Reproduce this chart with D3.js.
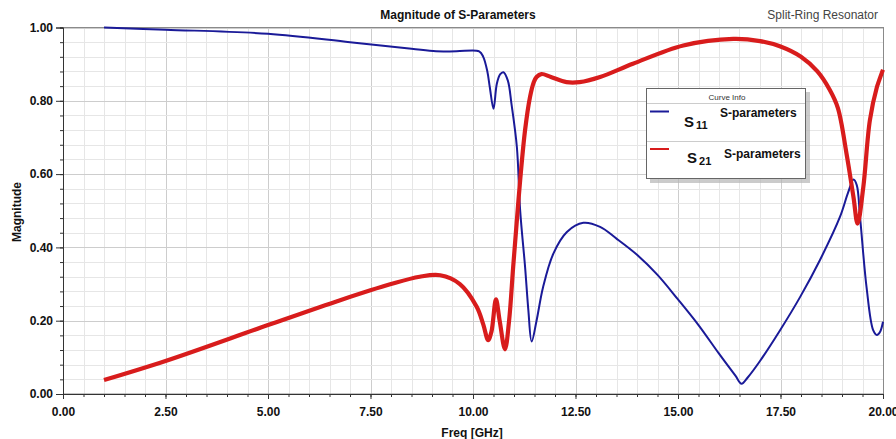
<!DOCTYPE html>
<html><head><meta charset="utf-8">
<script src="https://cdn.jsdelivr.net/npm/d3@7"></script>
<style>
html,body{margin:0;padding:0;background:#fff;}
svg{display:block;font-family:"Liberation Sans",Arial,sans-serif;}
</style></head>
<body><svg id="chart" width="896" height="439"></svg>
<script>
// ---- data ----
const freqS11 = [1.0, 2.5, 5.0, 7.0, 8.5, 9.1, 9.6, 10.15, 10.25, 10.35, 10.41, 10.5, 10.58, 10.66, 10.74, 10.85, 10.94, 11.07, 11.15, 11.27, 11.35, 11.43, 11.55, 11.71, 11.96, 12.29, 12.69, 13.1, 13.5, 14.0, 14.5, 15.0, 15.5, 16.0, 16.4, 16.55, 16.7, 17.0, 17.49, 17.98, 18.46, 18.95, 19.15, 19.28, 19.36, 19.44, 19.6, 19.76, 19.85, 19.93, 20.0];
const s11 = [1.0, 0.994, 0.983, 0.96, 0.942, 0.935, 0.935, 0.935, 0.92, 0.88, 0.837, 0.778, 0.846, 0.872, 0.878, 0.855, 0.79, 0.674, 0.501, 0.347, 0.229, 0.143, 0.2, 0.292, 0.383, 0.442, 0.467, 0.456, 0.424, 0.38, 0.325, 0.258, 0.188, 0.11, 0.05, 0.028, 0.045, 0.09, 0.174, 0.265, 0.365, 0.483, 0.55, 0.585, 0.57, 0.483, 0.29, 0.174, 0.161, 0.17, 0.197];
const freqS21 = [1.0, 2.5, 5.0, 6.76, 8.0, 8.7, 9.2, 9.68, 10.09, 10.25, 10.37, 10.45, 10.56, 10.65, 10.78, 10.88, 10.98, 11.07, 11.15, 11.27, 11.39, 11.48, 11.55, 11.67, 11.9, 12.28, 12.6, 13.1, 13.9, 15.13, 16.35, 17.0, 17.5, 18.0, 18.4, 18.7, 18.9, 19.11, 19.28, 19.38, 19.52, 19.68, 19.85, 20.0];
const s21 = [0.038, 0.09, 0.188, 0.256, 0.3, 0.32, 0.324, 0.30, 0.238, 0.19, 0.147, 0.17, 0.258, 0.2, 0.122, 0.2, 0.347, 0.474, 0.583, 0.72, 0.81, 0.85, 0.865, 0.873, 0.865, 0.851, 0.851, 0.865, 0.901, 0.951, 0.969, 0.963, 0.948, 0.92, 0.88, 0.83, 0.78, 0.656, 0.537, 0.465, 0.565, 0.747, 0.837, 0.885];
const xTicks = [0, 2.5, 5, 7.5, 10, 12.5, 15, 17.5, 20];
const yTicks = [0, 0.2, 0.4, 0.6, 0.8, 1.0];
const seriesNames = ["11", "21"];

// ---- layout ----
const svg = d3.select("#chart");
const L = 63, R = 883, T = 27.5, B = 394;
const x = d3.scaleLinear().domain([0, 20]).range([L, R]);
const y = d3.scaleLinear().domain([0, 1]).range([B, T]);

svg.append("rect").attr("width", 896).attr("height", 439).attr("fill", "#fff");

// grid
const g = svg.append("g");
const xMinor = d3.range(0, 20.001, 0.5);
const yMinor = d3.range(0, 1.0001, 0.04);
g.selectAll(".vx").data(xMinor).enter().append("line")
  .attr("x1", d => Math.round(x(d)) + 0.5).attr("x2", d => Math.round(x(d)) + 0.5)
  .attr("y1", T).attr("y2", B)
  .attr("stroke", d => Math.abs(d / 2.5 - Math.round(d / 2.5)) < 1e-6 ? "#cdcdcd" : "#e6e6e6")
  .attr("stroke-width", 1);
g.selectAll(".hy").data(yMinor).enter().append("line")
  .attr("y1", d => Math.round(y(d)) + 0.5).attr("y2", d => Math.round(y(d)) + 0.5)
  .attr("x1", L).attr("x2", R)
  .attr("stroke", d => Math.abs(d / 0.2 - Math.round(d / 0.2)) < 1e-6 ? "#cdcdcd" : "#e6e6e6")
  .attr("stroke-width", 1);

// frame
svg.append("rect").attr("x", L + 0.5).attr("y", T).attr("width", R - L).attr("height", B - T)
  .attr("fill", "none").attr("stroke", "#8a8a8a").attr("stroke-width", 1);

// axes
const xAxisMinor = d3.axisBottom(x).tickValues(xMinor).tickSize(3).tickFormat("");
const xAxis = d3.axisBottom(x).tickValues(xTicks).tickSize(5).tickPadding(8).tickFormat(d3.format(".2f"));
const yAxisMinor = d3.axisLeft(y).tickValues(yMinor).tickSize(3).tickFormat("");
const yAxis = d3.axisLeft(y).tickValues(yTicks).tickSize(7).tickPadding(3).tickFormat(d3.format(".2f"));

function styleAxis(sel) {
  sel.selectAll("path").attr("stroke", "#333");
  sel.selectAll("line").attr("stroke", "#333");
  sel.selectAll("text").attr("fill", "#111").attr("font-size", 12).attr("font-weight", "bold");
}
svg.append("g").attr("transform", `translate(0,${B})`).call(xAxisMinor).call(styleAxis);
svg.append("g").attr("transform", `translate(0,${B})`).call(xAxis).call(styleAxis);
svg.append("g").attr("transform", `translate(${L},0)`).call(yAxisMinor).call(styleAxis);
svg.append("g").attr("transform", `translate(${L},0)`).call(yAxis).call(styleAxis);

// curves
const line = d3.line().x(d => x(d[0])).y(d => y(d[1])).curve(d3.curveCatmullRom.alpha(0.5));
const d11 = freqS11.map((f, i) => [f, s11[i]]);
const d21 = freqS21.map((f, i) => [f, s21[i]]);
const blue = "#1a1a98", red = "#d81c1c";
svg.append("path").attr("d", line(d11)).attr("fill", "none").attr("stroke", blue).attr("stroke-width", 2);
svg.append("path").attr("d", line(d21)).attr("fill", "none").attr("stroke", red).attr("stroke-width", 4.2).attr("stroke-linejoin", "round");

// titles
svg.append("text").attr("x", 458).attr("y", 19).attr("text-anchor", "middle")
  .attr("font-size", 12).attr("font-weight", "bold").attr("fill", "#111").text("Magnitude of S-Parameters");
svg.append("text").attr("x", 878).attr("y", 19).attr("text-anchor", "end")
  .attr("font-size", 12).attr("fill", "#444").text("Split-Ring Resonator");
svg.append("text").attr("x", 472).attr("y", 437).attr("text-anchor", "middle")
  .attr("font-size", 12).attr("font-weight", "bold").attr("fill", "#111").text("Freq [GHz]");
svg.append("text").attr("transform", "translate(21,212) rotate(-90)").attr("text-anchor", "middle")
  .attr("font-size", 12).attr("font-weight", "bold").attr("fill", "#111").text("Magnitude");

// legend
const lg = svg.append("g");
lg.append("rect").attr("x", 650).attr("y", 92).attr("width", 160).attr("height", 91).attr("fill", "#b5b5b5").attr("opacity", 0.7);
lg.append("rect").attr("x", 646.5).attr("y", 88.5).attr("width", 159).attr("height", 90).attr("fill", "#fff").attr("stroke", "#666");
lg.append("text").attr("x", 727).attr("y", 99.5).attr("text-anchor", "middle").attr("font-size", 8).attr("fill", "#333").text("Curve Info");
lg.append("line").attr("x1", 647).attr("x2", 805).attr("y1", 103.5).attr("y2", 103.5).attr("stroke", "#ccc");
lg.append("line").attr("x1", 647).attr("x2", 805).attr("y1", 141.5).attr("y2", 141.5).attr("stroke", "#ccc");
const legendRows = [
  { name: seriesNames[0], color: blue, ly: 111.5, sx: 684, sy: 127, px: 720, py: 117 },
  { name: seriesNames[1], color: red, ly: 149, sx: 687, sy: 163, px: 724, py: 158 }
];
legendRows.forEach(r => {
  lg.append("line").attr("x1", 650).attr("x2", 669).attr("y1", r.ly).attr("y2", r.ly).attr("stroke", r.color).attr("stroke-width", 2);
  const t = lg.append("text").attr("x", r.sx).attr("y", r.sy).attr("font-weight", "bold").attr("fill", "#111");
  t.append("tspan").attr("font-size", 15).text("S");
  t.append("tspan").attr("font-size", 11).attr("dx", 2).attr("dy", 2).text(r.name);
  lg.append("text").attr("x", r.px).attr("y", r.py).attr("font-size", 12).attr("font-weight", "bold").attr("fill", "#111").text("S-parameters");
});
</script></body></html>
